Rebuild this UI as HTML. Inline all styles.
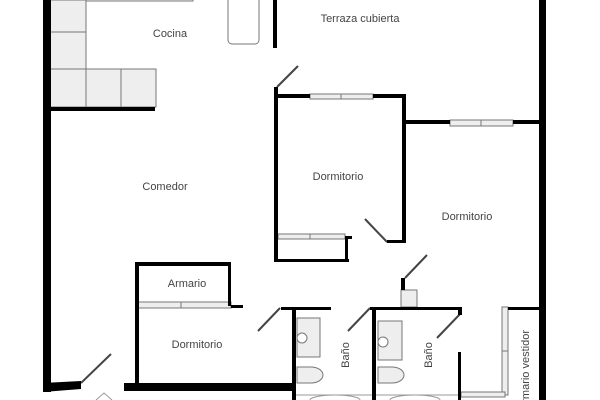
<!DOCTYPE html>
<html><head><style>body{margin:0;background:#fff}svg{display:block}text{font-family:"Liberation Sans",sans-serif;font-size:11px;fill:#444}</style></head>
<body>
<svg width="600" height="400" viewBox="0 0 600 400">
<g fill="#eee" stroke="#777" stroke-width="1">
<rect x="50" y="0" width="36" height="32"/><rect x="50" y="32" width="36" height="37"/>
<rect x="50" y="69" width="36" height="38"/><rect x="86" y="69" width="35" height="38"/><rect x="121" y="69" width="35" height="38"/>
<rect x="86" y="-5" width="107" height="6"/>
<rect x="228" y="-8" width="31" height="52" rx="4" fill="#fff"/>
<rect x="310" y="94" width="63" height="5"/><line x1="341" y1="94" x2="341" y2="99"/>
<rect x="450" y="120" width="63" height="6"/><line x1="481" y1="120" x2="481" y2="126"/>
<rect x="278" y="234" width="67" height="5"/><line x1="310" y1="234" x2="310" y2="239"/>
<rect x="137" y="302" width="94" height="6"/><line x1="181" y1="302" x2="181" y2="308"/>
<rect x="401" y="290" width="16" height="17"/>
<rect x="297" y="318" width="23" height="39"/><circle cx="302" cy="338" r="5" fill="#fff"/>
<path d="M297 367 h14 a12 8 0 0 1 0 16 h-14z"/>
<rect x="378" y="321" width="24" height="39"/><circle cx="383" cy="342" r="5" fill="#fff"/>
<path d="M378 367 h14 a12 8 0 0 1 0 16 h-14z"/>
<rect x="502" y="307" width="6" height="88"/><line x1="502" y1="351" x2="508" y2="351"/>
<rect x="461" y="392" width="44" height="5"/>
</g>
<g stroke="#999" stroke-width="1" fill="none">
<line x1="296" y1="395" x2="460" y2="395"/>
<path d="M310 400 a25 5 0 0 1 50 0"/><path d="M390 400 a25 5 0 0 1 50 0"/>
<path d="M96 400 l8 -7 l8 7"/>
</g>
<g stroke="#444" stroke-width="2">
<line x1="277" y1="87" x2="298" y2="66"/><line x1="365" y1="219" x2="387" y2="242"/>
<line x1="81" y1="383" x2="111" y2="354"/><line x1="258" y1="331" x2="280" y2="308"/>
<line x1="348" y1="331" x2="370" y2="308"/><line x1="405" y1="278" x2="427" y2="255"/>
<line x1="437" y1="338" x2="461" y2="313"/>
</g>
<g fill="#000">
<rect x="43" y="0" width="8" height="392"/>
<polygon points="43,383 81,381 81,389 43,392"/>
<rect x="124" y="383" width="170" height="8"/>
<rect x="50" y="107" width="105" height="4"/>
<rect x="273" y="0" width="4" height="48"/>
<rect x="274" y="87" width="4" height="175"/>
<rect x="277" y="94" width="33" height="4"/><rect x="373" y="94" width="32" height="4"/>
<rect x="402" y="94" width="4" height="149"/><rect x="387" y="240" width="19" height="3"/>
<rect x="274" y="259" width="75" height="3"/><rect x="345" y="236" width="7" height="3"/><rect x="345" y="236" width="3" height="26"/>
<rect x="402" y="120" width="48" height="4"/><rect x="513" y="120" width="30" height="4"/>
<rect x="539" y="0" width="7" height="400"/>
<rect x="135" y="262" width="96" height="4"/><rect x="135" y="262" width="4" height="124"/><rect x="228" y="262" width="3" height="44"/>
<rect x="231" y="305" width="12" height="3"/>
<rect x="281" y="307" width="50" height="3"/><rect x="292" y="307" width="4" height="93"/>
<rect x="370" y="307" width="92" height="3"/><rect x="458" y="307" width="4" height="8"/><rect x="372" y="307" width="4" height="93"/>
<rect x="401" y="278" width="4" height="12"/>
<rect x="458" y="352" width="3" height="48"/>
<rect x="508" y="307" width="35" height="3"/>
</g>
<text x="170" y="37" text-anchor="middle">Cocina</text>
<text x="360" y="22" text-anchor="middle">Terraza cubierta</text>
<text x="165" y="190" text-anchor="middle">Comedor</text>
<text x="338" y="180" text-anchor="middle">Dormitorio</text>
<text x="467" y="220" text-anchor="middle">Dormitorio</text>
<text x="187" y="287" text-anchor="middle">Armario</text>
<text x="197" y="348" text-anchor="middle">Dormitorio</text>
<text transform="translate(349,355) rotate(-90)" text-anchor="middle">Baño</text>
<text transform="translate(432,355) rotate(-90)" text-anchor="middle">Baño</text>
<text transform="translate(529,330) rotate(-90)" text-anchor="end">Armario vestidor</text>
</svg>
</body></html>
